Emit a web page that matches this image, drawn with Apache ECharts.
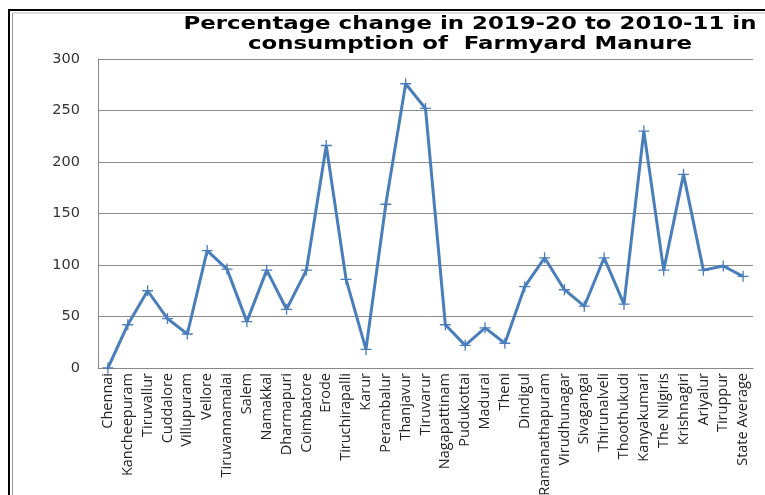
<!DOCTYPE html>
<html>
<head>
<meta charset="utf-8">
<script src="https://cdn.jsdelivr.net/npm/echarts@6/dist/echarts.min.js"></script>
<style>
html,body{margin:0;padding:0;background:#fff;}
#chart{width:765px;height:495px;}
</style>
</head>
<body>
<div id="chart"></div>
<script>
var districts = ["Chennai","Kancheepuram","Tiruvallur","Cuddalore","Villupuram","Vellore","Tiruvannamalai","Salem","Namakkal","Dharmapuri","Coimbatore","Erode","Tiruchirapalli","Karur","Perambalur","Thanjavur","Tiruvarur","Nagapattinam","Pudukottai","Madurai","Theni","Dindigul","Ramanathapuram","Virudhunagar","Sivagangai","Thirunalveli","Thoothukudi","Kanyakumari","The Nilgiris","Krishnagiri","Ariyalur","Tiruppur","State Average"];
var pctChange = [0,42,75,48,33,114,96,45,95,57,95,216,86,18,159,276,252,42,22,39,24,79,107,76,60,107,62,230,95,188,95,99,89];
var yTicks = {min:0, max:300, interval:50};
var titleLines = ["Percentage change in 2019-20 to 2010-11 in","consumption of  Farmyard Manure"];

var chart = echarts.init(document.getElementById('chart'), null, {renderer:'canvas'});
chart.setOption({
  animation:false,
  backgroundColor:'#ffffff',
  graphic:[
    {type:'line', shape:{x1:8,y1:10,x2:765,y2:10}, style:{stroke:'#000',lineWidth:2}},
    {type:'line', shape:{x1:9,y1:10,x2:9,y2:495}, style:{stroke:'#000',lineWidth:2}},
    {type:'line', shape:{x1:12.5,y1:13,x2:12.5,y2:495}, style:{stroke:'#999',lineWidth:1}},
    {type:'line', shape:{x1:12.5,y1:13,x2:765,y2:13}, style:{stroke:'#bbb',lineWidth:1}},
    {type:'text', x:470, y:14, scaleX:1.27, originX:0, originY:0,
      style:{text:titleLines.join('\n'), fontFamily:'DejaVu Sans', fontWeight:'bold', fontSize:18,
             lineHeight:20, fill:'#000', align:'center', verticalAlign:'top'}}
  ],
  grid:{left:98, right:12, top:59, bottom:127, containLabel:false, outerBoundsMode:'none'},
  xAxis:{
    type:'category', data:districts, boundaryGap:true,
    axisLine:{show:true, lineStyle:{color:'#888', width:1}},
    axisTick:{show:false},
    axisLabel:{interval:0, rotate:90, margin:5, fontFamily:'Open Sans', fontSize:14.5, color:'#222'}
  },
  yAxis:{
    type:'value', min:yTicks.min, max:yTicks.max, interval:yTicks.interval,
    axisLine:{show:true, lineStyle:{color:'#888', width:1}},
    axisTick:{show:false},
    splitLine:{show:true, lineStyle:{color:'#8a8a8a', width:1}},
    axisLabel:{margin:18, fontFamily:'DejaVu Sans', fontSize:14.5, color:'#333'}
  },
  series:[{
    type:'line', data:pctChange,
    lineStyle:{color:'#4a7ebb', width:3},
    itemStyle:{color:'#4a7ebb'},
    symbol:'path://M4.4,0h1.2v10h-1.2z M0,4.4h10v1.2h-10z',
    symbolSize:11,
    showAllSymbol:true
  }]
});
</script>
</body>
</html>
